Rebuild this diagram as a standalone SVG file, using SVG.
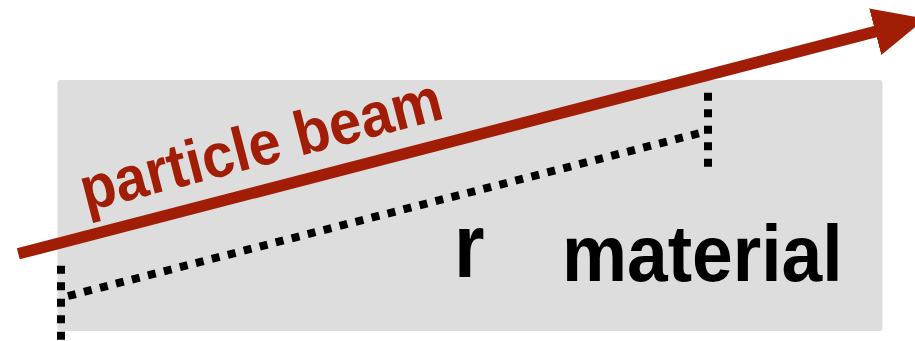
<svg xmlns="http://www.w3.org/2000/svg" width="915" height="341" viewBox="0 0 915 341">
  <style>
    .slab { fill: #dddddd; }
    .dots { fill: none; stroke: #000000; stroke-width: 8; stroke-dasharray: 8 8.5; }
    .beam { fill: none; stroke: #a11d06; stroke-width: 11.5; }
    .beam-label { font-family: "Liberation Sans", Arial, sans-serif; font-weight: bold; font-size: 62px; fill: #a11d06; }
    .label { font-family: "Liberation Sans", Arial, sans-serif; font-weight: bold; font-size: 79px; fill: #000000; }
  </style>
  <defs>
    <marker id="beam-head" markerUnits="userSpaceOnUse" markerWidth="54" markerHeight="50" refX="1" refY="24" orient="auto" viewBox="0 0 54 48">
      <polygon points="0,0 52,24 0,48" fill="#a11d06"/>
    </marker>
  </defs>

  <!-- material slab -->
  <g id="material">
    <rect class="slab" x="57.5" y="80" width="825" height="251" rx="3"/>
    <text class="label" transform="translate(562 281) scale(0.926 1)">material</text>
  </g>

  <!-- path length label -->
  <g id="r-label">
    <text class="label" style="font-size:90px" transform="translate(454 277) scale(0.87 1)">r</text>
  </g>

  <!-- beam label -->
  <g id="beam-label">
    <text class="beam-label" transform="translate(86 211.5) rotate(-14.54) scale(0.93 1)">particle beam</text>
  </g>

  <!-- connectors: beam arrow, path through the slab and its end ticks -->
  <g id="connectors">
    <line class="beam" x1="18.3" y1="253.8" x2="876.2" y2="31.4" marker-end="url(#beam-head)"/>
    <line class="dots" x1="68" y1="296" x2="704" y2="132"/>
    <line class="dots" x1="61" y1="265.7" x2="61" y2="341"/>
    <line class="dots" x1="708" y1="92.7" x2="708" y2="168"/>
  </g>
</svg>
